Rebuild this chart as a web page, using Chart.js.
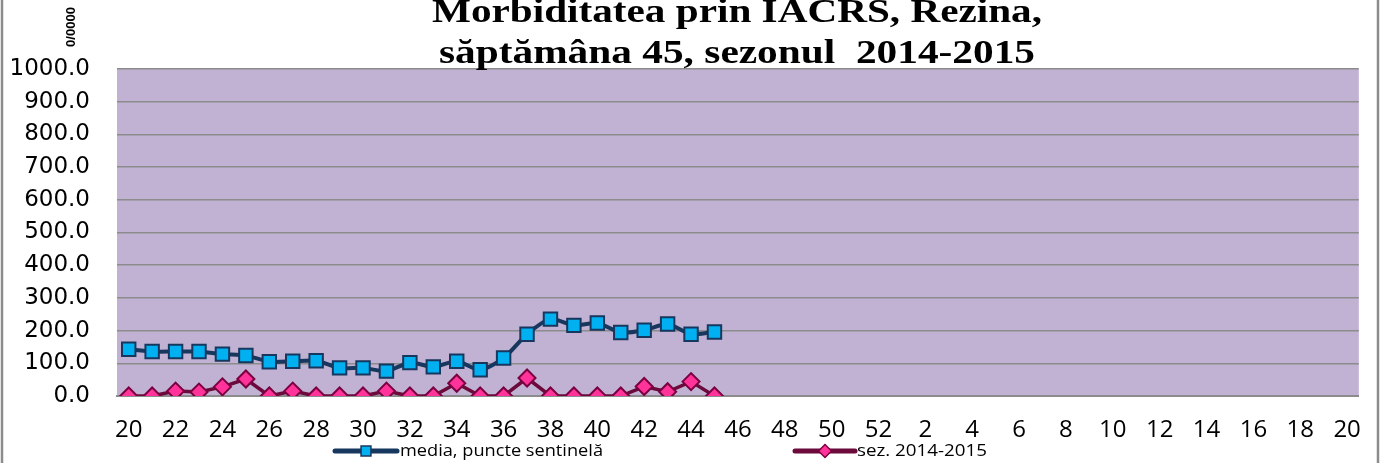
<!DOCTYPE html>
<html>
<head>
<meta charset="utf-8">
<script src="https://cdn.jsdelivr.net/npm/chart.js@4.4.0/dist/chart.umd.min.js"></script>
<style>
  body { margin: 0; background: #fff; }
  #wrap { width: 1381px; height: 463px; position: relative; }
</style>
</head>
<body>
<div id="wrap"><canvas id="myChart" width="1381" height="463"></canvas></div>
<script>
// weeks of the season: 20..52 then 1..20
const weeks = ['20','21','22','23','24','25','26','27','28','29','30','31','32','33','34','35','36',
  '37','38','39','40','41','42','43','44','45','46','47','48','49','50','51','52',
  '1','2','3','4','5','6','7','8','9','10','11','12','13','14','15','16','17','18','19','20'];

// media, puncte sentinelă (weeks 20..45)
const mediaSentinela = [143, 136, 136, 136, 128, 124, 105, 106, 108, 86, 86, 76, 102,
  89, 106, 80, 116, 189, 235, 216, 223, 194, 201, 220, 189, 196];

// sez. 2014-2015 (weeks 20..45)
const sezon = [0, 0, 15, 12, 28, 52, 0, 15, 0, 0, 0, 15, 0,
  0, 39, 0, 0, 55, 0, 0, 0, 0, 29, 13, 44, 0];

const titleLines = ['Morbiditatea prin IACRS, Rezina,', 'săptămâna 45, sezonul  2014-2015'];
const unitLabel = '0/0000';

const canvas = document.getElementById('myChart');
const ctx = canvas.getContext('2d');

// draws text at x (aligned as given), stretched sideways to a width (the original is stretched)
function stretchedText(c, text, x, y, width, align) {
  const w = c.measureText(text).width;
  c.save();
  c.translate(x, y);
  c.scale(width / w, 1);
  c.textAlign = align;
  c.fillText(text, 0, 0);
  c.restore();
}

// lavender plot background + outer frame + title
const decorPlugin = {
  id: 'decor',
  beforeDraw(chart) {
    const c = chart.ctx;
    const a = chart.chartArea;
    c.save();
    c.fillStyle = '#c1b2d4';
    c.fillRect(a.left, a.top, a.right - a.left, a.bottom - a.top);
    c.restore();
  },
  afterDraw(chart) {
    const c = chart.ctx;
    c.save();
    // frame
    c.strokeStyle = '#8c8c8c';
    c.lineWidth = 2.5;
    c.beginPath();
    c.moveTo(2, 0); c.lineTo(2, 463);
    c.moveTo(1378, 0); c.lineTo(1378, 463);
    c.stroke();
    // title
    c.fillStyle = '#000';
    c.font = 'bold 33px "Liberation Serif"';
    c.textBaseline = 'alphabetic';
    stretchedText(c, titleLines[0], 737, 22, 610, 'center');
    stretchedText(c, titleLines[1], 737, 63, 596, 'center');
    // unit label, rotated
    c.translate(71, 27);
    c.rotate(-Math.PI / 2);
    c.font = 'bold 13px "Liberation Sans"';
    c.textAlign = 'center';
    c.textBaseline = 'middle';
    c.fillText(unitLabel, 0, 0);
    c.restore();
  }
};

// legend: line with marker, like the original
const legendSpots = [
  {x0: 335, x1: 397, text: 400, textW: 203},
  {x0: 795, x1: 855, text: 857, textW: 130}
];

const legendPlugin = {
  id: 'lineLegend',
  afterDraw(chart) {
    const c = chart.ctx;
    const y = 451;
    chart.data.datasets.forEach((ds, i) => {
      const s = legendSpots[i];
      c.save();
      c.strokeStyle = ds.borderColor;
      c.lineWidth = 5;
      c.lineCap = 'round';
      c.beginPath();
      c.moveTo(s.x0, y);
      c.lineTo(s.x1, y);
      c.stroke();
      const mid = (s.x0 + s.x1) / 2;
      c.fillStyle = ds.pointBackgroundColor;
      c.strokeStyle = ds.pointBorderColor;
      c.lineWidth = 1.5;
      Chart.helpers.drawPoint(c, {
        pointStyle: ds.pointStyle,
        radius: ds.pointStyle === 'rect' ? 7 : 6.5,
        borderWidth: 1.5
      }, mid, y);
      c.fillStyle = '#000';
      c.font = '16px "Open Sans"';
      c.textBaseline = 'middle';
      stretchedText(c, ds.label, s.text, y, s.textW, 'left');
      c.restore();
    });
  }
};

const myChart = new Chart(ctx, {
  type: 'line',
  data: {
    labels: weeks,
    datasets: [
      {
        label: 'media, puncte sentinelă',
        data: mediaSentinela,
        borderColor: '#17375e',
        borderWidth: 4,
        pointStyle: 'rect',
        pointRadius: 9.5,
        pointBackgroundColor: '#00b0f0',
        pointBorderColor: '#17375e',
        pointBorderWidth: 2,
        tension: 0.25
      },
      {
        label: 'sez. 2014-2015',
        data: sezon,
        borderColor: '#6b0a3b',
        borderWidth: 3.5,
        pointStyle: 'rectRot',
        pointRadius: 8.5,
        pointBackgroundColor: '#ff3399',
        pointBorderColor: '#7a0040',
        pointBorderWidth: 2,
        tension: 0
      }
    ]
  },
  options: {
    responsive: false,
    animation: false,
    layout: { padding: { top: 69, right: 19, bottom: 25, left: 0 } },
    plugins: {
      legend: { display: false },
      title: { display: false },
      tooltip: { enabled: false }
    },
    scales: {
      x: {
        offset: true,
        grid: { display: false, drawTicks: false },
        border: { display: true, color: '#8c8c8c', width: 2 },
        ticks: {
          autoSkip: false,
          maxRotation: 0,
          padding: 20,
          color: '#000',
          font: { family: 'Open Sans', size: 24 },
          callback: function (value, index) {
            return index % 2 === 0 ? this.getLabelForValue(value) : '';
          }
        },
        afterFit(scale) { scale.height = 42; }
      },
      y: {
        min: 0,
        max: 1000,
        grid: { color: '#8c8c8c', lineWidth: 1.5, drawTicks: false },
        border: { display: false },
        ticks: {
          stepSize: 100,
          padding: 27,
          color: '#000',
          font: { family: 'DejaVu Sans', size: 23 },
          callback: v => v.toFixed(1)
        },
        afterFit(scale) { scale.width = 117; }
      }
    }
  },
  plugins: [decorPlugin, legendPlugin]
});
</script>
</body>
</html>
